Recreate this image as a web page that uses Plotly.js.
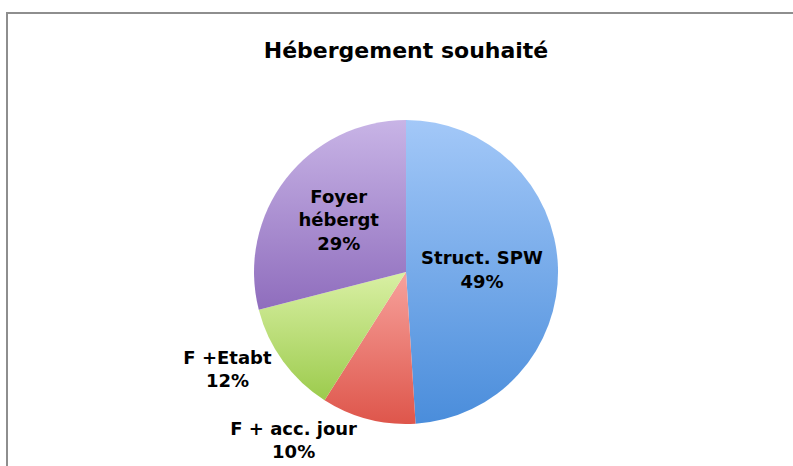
<!DOCTYPE html>
<html>
<head>
<meta charset="utf-8">
<script src="https://cdn.plot.ly/plotly-3.0.1.min.js"></script>
<style>
  html, body { margin: 0; padding: 0; background: #ffffff; }
  #wrap { position: relative; width: 793px; height: 466px; overflow: hidden; }
  #frame { position: absolute; left: 6px; top: 12px; right: -10px; bottom: -10px;
           border-left: 2px solid #8e8e8e; border-top: 2px solid #8e8e8e; pointer-events: none; }
  #chart { position: absolute; left: 0; top: 0; width: 793px; height: 466px; }
</style>
</head>
<body>
<div id="wrap">
  <div id="chart"></div>
  <div id="frame"></div>
</div>
<script>
// Data
const categories = ['Struct. SPW', 'F + acc. jour', 'F +Etabt', 'Foyer hébergt'];
const displayLabels = ['Struct. SPW', 'F + acc. jour', 'F +Etabt', 'Foyer<br>hébergt'];
const values = [49, 10, 12, 29];
const sliceColors = ['#78abea', '#ea7a6f', '#c2df7e', '#ad92d3'];
const gradTop = ['#a3c8f8', '#f7a29c', '#d9f0a4', '#c8b4e6'];
const gradBottom = ['#4a8ddb', '#de564b', '#9ccb4d', '#8f6dbd'];
const textPositions = ['inside', 'outside', 'outside', 'inside'];

const fontFamily = '"DejaVu Sans", "Liberation Sans", sans-serif';

const trace = {
  type: 'pie',
  labels: categories,
  values: values,
  text: displayLabels,
  texttemplate: '%{text}<br>%{percent:.0%}',
  textposition: textPositions,
  insidetextorientation: 'horizontal',
  sort: false,
  direction: 'clockwise',
  rotation: 0,
  marker: { colors: sliceColors, line: { width: 0 } },
  textfont: { family: fontFamily, size: 18, color: '#000000', weight: 'bold' },
  insidetextfont: { family: fontFamily, size: 18, color: '#000000', weight: 'bold' },
  outsidetextfont: { family: fontFamily, size: 18, color: '#000000', weight: 'bold' },
  hoverinfo: 'none',
  domain: { x: [0.3203, 0.7037], y: [0.0901, 0.7425] },
  showlegend: false
};

const layout = {
  width: 793,
  height: 466,
  margin: { l: 0, r: 0, t: 0, b: 0 },
  paper_bgcolor: '#ffffff',
  plot_bgcolor: '#ffffff',
  showlegend: false,
  title: {
    text: 'Hébergement souhaité',
    font: { family: fontFamily, size: 22, color: '#000000', weight: 'bold' },
    x: 0.512, xanchor: 'center',
    y: 0.893, yanchor: 'middle'
  }
};

Plotly.newPlot('chart', [trace], layout, { staticPlot: true, displayModeBar: false }).then(function (gd) {
  const svg = gd.querySelector('svg.main-svg');
  const ns = 'http://www.w3.org/2000/svg';
  let defs = svg.querySelector('defs');
  if (!defs) { defs = document.createElementNS(ns, 'defs'); svg.insertBefore(defs, svg.firstChild); }
  const paths = gd.querySelectorAll('.slice path.surface');
  paths.forEach(function (p, i) {
    const g = document.createElementNS(ns, 'linearGradient');
    g.setAttribute('id', 'sliceGrad' + i);
    g.setAttribute('x1', '0'); g.setAttribute('y1', '0');
    g.setAttribute('x2', '0'); g.setAttribute('y2', '1');
    const s1 = document.createElementNS(ns, 'stop');
    s1.setAttribute('offset', '0'); s1.setAttribute('stop-color', gradTop[i]);
    const s2 = document.createElementNS(ns, 'stop');
    s2.setAttribute('offset', '1'); s2.setAttribute('stop-color', gradBottom[i]);
    g.appendChild(s1); g.appendChild(s2);
    defs.appendChild(g);
    p.style.fill = 'url(#sliceGrad' + i + ')';
  });
});
</script>
</body>
</html>
